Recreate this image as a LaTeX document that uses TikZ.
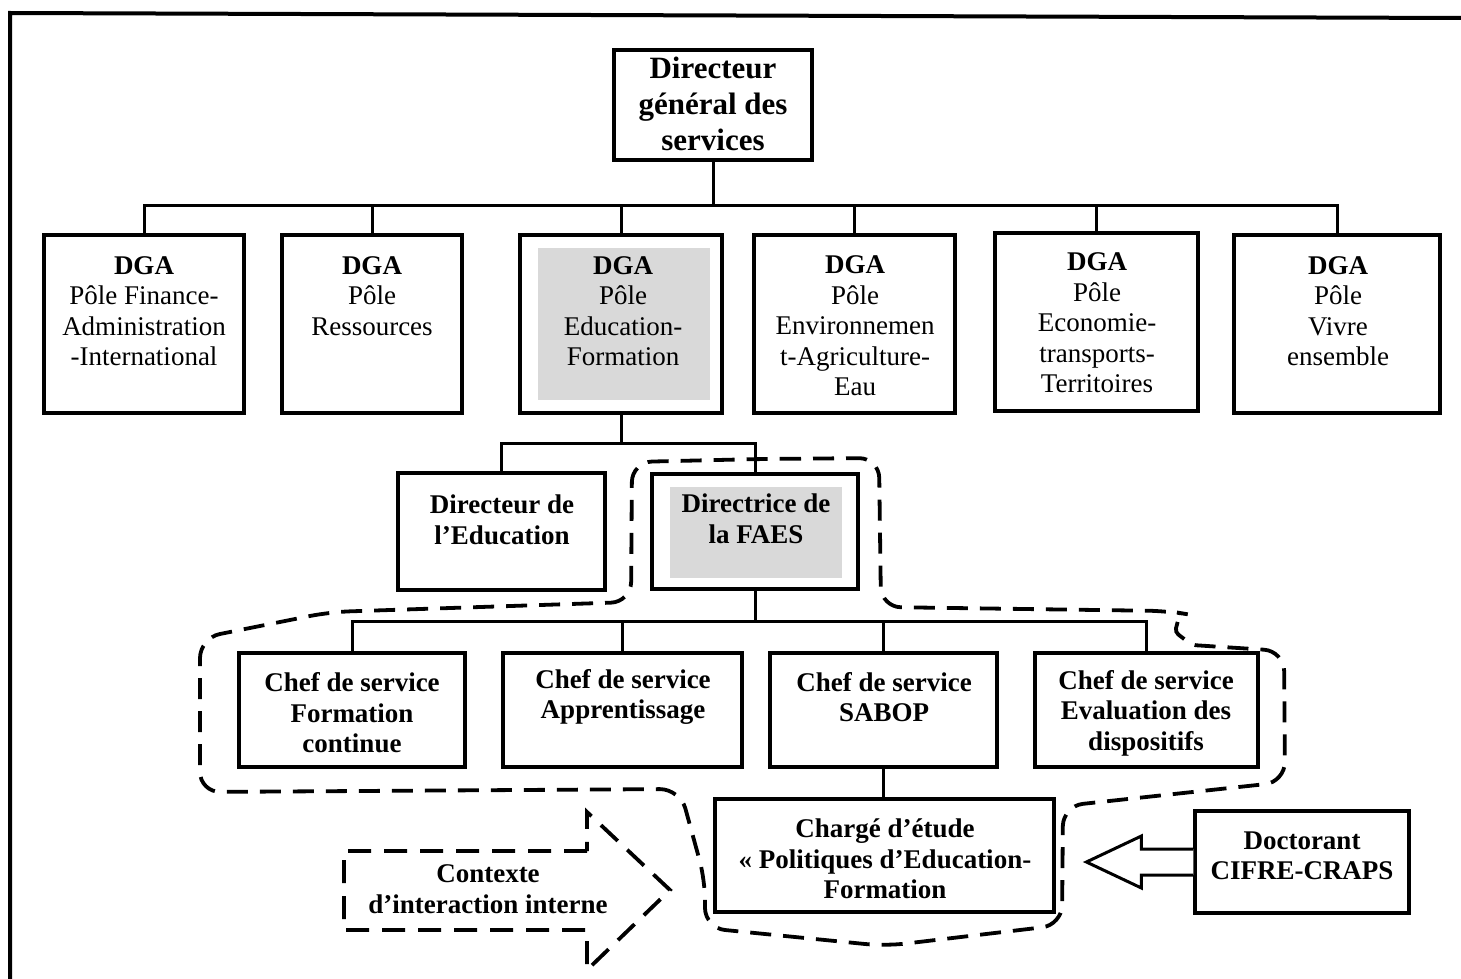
\documentclass[tikz,border=0pt]{standalone}
\usepackage{fontspec}
\setmainfont{Liberation Serif}
\usetikzlibrary{calc}
\definecolor{boxgrey}{HTML}{D9D9D9}
\begin{document}
\begin{tikzpicture}[x=1pt,y=-1pt,
  boxn/.style={draw, line width=3.2pt, inner sep=0pt},
  txt/.style={align=center, inner sep=0pt, font=\fontsize{27}{30.5}\selectfont},
  btxt/.style={align=center, inner sep=0pt, font=\fontsize{27}{30.5}\selectfont\bfseries},
  link/.style={line width=3pt},
  dashline/.style={line width=3.8pt, dash pattern=on 21pt off 12pt}]
\useasboundingbox (0,0) rectangle (1461,979);
% outer frame
\draw[line width=4pt] (10,979) -- (10,13) -- (1461,18);
% top box
\node[boxn, minimum width=198pt, minimum height=110pt] (top) at (713,105) {};
\node[align=center, inner sep=0pt, font=\fontsize{31}{36}\selectfont\bfseries] (ttop) at (713,104) {Directeur\\général des\\services};
% row 1
\node[boxn, minimum width=200pt, minimum height=178pt] (b1) at (144,324) {};
\node[boxn, minimum width=180pt, minimum height=178pt] (b2) at (372,324) {};
\node[boxn, minimum width=202pt, minimum height=178pt] (b3) at (621,324) {};
\node[boxn, minimum width=201pt, minimum height=178pt] (b4) at (854.5,324) {};
\node[boxn, minimum width=203pt, minimum height=178pt] (b5) at (1096.5,322) {};
\node[boxn, minimum width=206pt, minimum height=178pt] (b6) at (1337,324) {};
\fill[boxgrey] (538,248) rectangle (710,400);
\node[txt] (t1) at (144,311) {\textbf{DGA}\\Pôle Finance-\\Administration\\-International};
\node[txt] (t2) at (372,296) {\textbf{DGA}\\Pôle\\Ressources};
\node[txt] (t3) at (623,311) {\textbf{DGA}\\Pôle\\Education-\\Formation};
\node[txt] (t4) at (855,326) {\textbf{DGA}\\Pôle\\Environnemen\\t-Agriculture-\\Eau};
\node[txt] (t5) at (1097,323) {\textbf{DGA}\\Pôle\\Economie-\\transports-\\Territoires};
\node[txt] (t6) at (1338,311) {\textbf{DGA}\\Pôle\\Vivre\\ensemble};
% row 2
\node[boxn, minimum width=207pt, minimum height=117pt] (ded) at (501.5,531.5) {};
\node[boxn, minimum width=206pt, minimum height=115pt] (dfa) at (755,531.5) {};
\fill[boxgrey] (670,487) rectangle (842,578);
\node[btxt] (tded) at (502,520) {Directeur de\\l’Education};
\node[btxt] (tdfa) at (756,519) {Directrice de\\la FAES};
% row 3
\node[boxn, minimum width=226pt, minimum height=114pt] (c1) at (352,710) {};
\node[boxn, minimum width=239pt, minimum height=114pt] (c2) at (622.5,710) {};
\node[boxn, minimum width=227pt, minimum height=114pt] (c3) at (883.5,710) {};
\node[boxn, minimum width=223pt, minimum height=114pt] (c4) at (1146.5,710) {};
\node[btxt] (tc1) at (352,713) {Chef de service\\Formation\\continue};
\node[btxt] (tc2) at (623,697) {Chef de service\\Apprentissage};
\node[btxt] (tc3) at (884,697) {Chef de service\\SABOP};
\node[btxt] (tc4) at (1146,713) {Chef de service\\Evaluation des\\dispositifs};
% row 4
\node[boxn, minimum width=339pt, minimum height=113pt] (chg) at (884.5,855.5) {};
\node[btxt] (tchg) at (885,859) {Chargé d’étude\\« Politiques d’Education-\\Formation};
\node[boxn, minimum width=214pt, minimum height=102pt] (doc) at (1302,862) {};
\node[btxt] (tdoc) at (1302,856) {Doctorant\\CIFRE-CRAPS};
% connectors
\coordinate (bus1) at (713,205);
\draw[link] (top.south) -- (bus1);
\draw[link] (b1.north) -- (b1.north |- bus1) -- (b6.north |- bus1) -- (b6.north);
\foreach \b in {b2,b3,b4,b5} \draw[link] (\b.north) -- (\b.north |- bus1);
\coordinate (bus2) at (621,443);
\draw[link] (b3.south) -- (bus2);
\draw[link] (ded.north) -- (ded.north |- bus2) -- (dfa.north |- bus2) -- (dfa.north);
\coordinate (bus3) at (755,621);
\draw[link] (dfa.south) -- (bus3);
\draw[link] (c1.north) -- (c1.north |- bus3) -- (c4.north |- bus3) -- (c4.north);
\foreach \b in {c2,c3} \draw[link] (\b.north) -- (\b.north |- bus3);
\draw[link] (c3.south) -- (c3.south |- chg.north);
% doctorant block arrow
\coordinate (dw) at (doc.west);
\draw[line width=3pt, fill=white, line join=miter]
  ($(dw)+(0,-13)$) -- ($(dw)+(-52,-13)$) -- ($(dw)+(-52,-26)$) -- ($(dw)+(-107,0)$)
  -- ($(dw)+(-52,26)$) -- ($(dw)+(-52,13)$) -- ($(dw)+(0,13)$);
% contexte dashed block arrow
\draw[line width=3.8pt, dash pattern=on 23pt off 13pt]
  (587,851) -- (344,851) -- (344,930) -- (587,930) -- (587,970) -- (670,890) -- (587,812) -- cycle;
\node[btxt] (tctx) at (488,889) {Contexte\\d’interaction interne};
% dashed outline
\draw[dashline, rounded corners=20pt]
  (760,459) -- (879,458) -- (881,607) -- (1168,611)
  [rounded corners=4pt] -- (1180,613) -- (1175,632) -- (1192,645)
  [rounded corners=20pt] -- (1284,651) -- (1285,782) -- (1063,806) -- (1062,925) -- (885,946)
  -- (705,928) -- (705,880) -- (680,789) -- (200,792) -- (200,638)
  -- (330,612) -- (631,602) -- (632,462) -- cycle;
\end{tikzpicture}
\end{document}
